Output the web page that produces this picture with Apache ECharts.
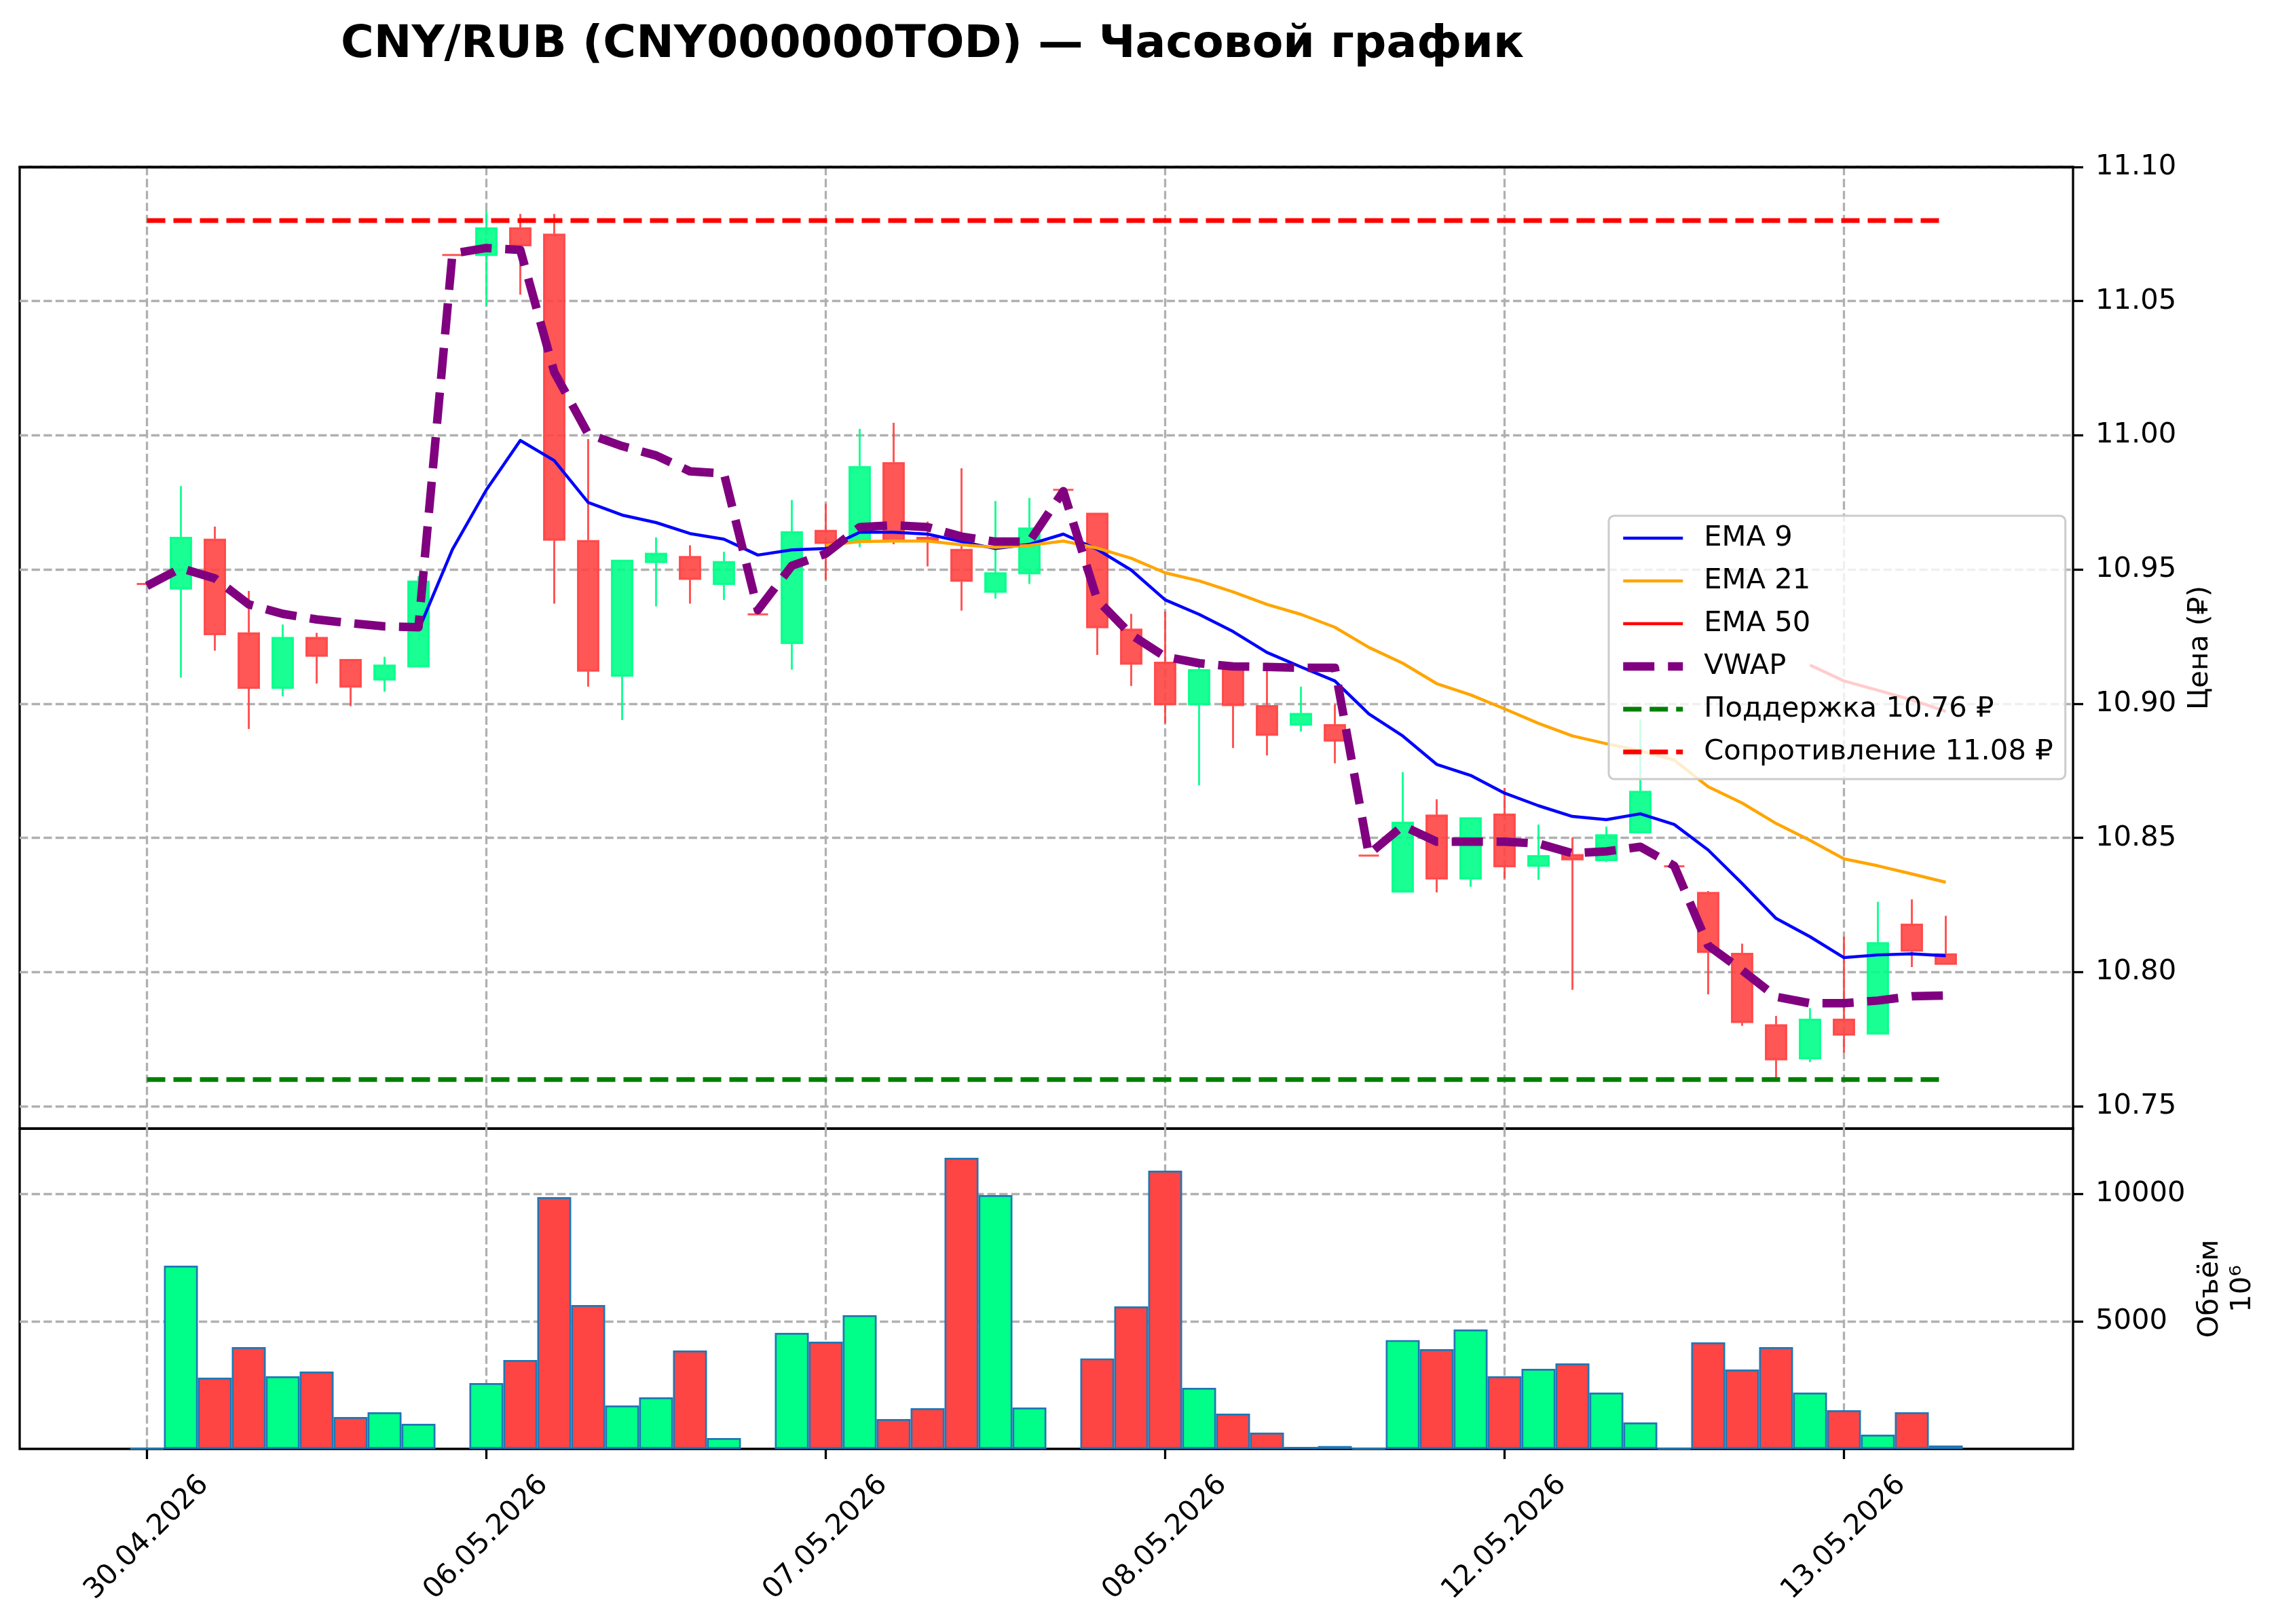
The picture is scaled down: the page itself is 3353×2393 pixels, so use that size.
<!DOCTYPE html>
<html>
<head>
<meta charset="utf-8">
<script src="https://cdn.jsdelivr.net/npm/echarts@6/dist/echarts.min.js"></script>
<style>html,body{margin:0;padding:0;background:#fff;}#chart{width:3353px;height:2393px;}</style>
</head>
<body>
<div id="chart"></div>
<script>
// ---- data ----
const xTickPositions = [0, 10, 20, 30, 40, 50];
const xTickLabels = ['30.04.2026', '06.05.2026', '07.05.2026', '08.05.2026', '12.05.2026', '13.05.2026'];
const priceTicks = [10.75, 10.80, 10.85, 10.90, 10.95, 11.00, 11.05, 11.10];
const volumeTicks = [5000, 10000];

const openP = [10.9446, 10.9429, 10.9611, 10.9262, 10.9059, 10.9245, 10.9163, 10.9090, 10.9139, 11.0672,
  11.0672, 11.0771, 11.0748, 10.9606, 10.9104, 10.9528, 10.9547, 10.9446, 10.9333, 10.9226,
  10.9644, 10.9606, 10.9896, 10.9618, 10.9573, 10.9417, 10.9486, 10.9797, 10.9708, 10.9276,
  10.9153, 10.8998, 10.9132, 10.8991, 10.8922, 10.8920, 10.8434, 10.8300, 10.8583, 10.8349,
  10.8587, 10.8396, 10.8436, 10.8417, 10.8521, 10.8394, 10.8295, 10.8068, 10.7802, 10.7679,
  10.7823, 10.7771, 10.8177, 10.8066];
const highP = [10.9446, 10.9811, 10.9660, 10.9420, 10.9295, 10.9264, 10.9163, 10.9175, 10.9476, 11.0672,
  11.0837, 11.0825, 11.0825, 10.9986, 10.9533, 10.9620, 10.9590, 10.9566, 10.9333, 10.9759,
  10.9745, 11.0024, 11.0047, 10.9679, 10.9877, 10.9755, 10.9767, 10.9797, 10.9708, 10.9335,
  10.9344, 10.9139, 10.9132, 10.9127, 10.9064, 10.8998, 10.8434, 10.8745, 10.8644, 10.8573,
  10.8686, 10.8550, 10.8502, 10.8542, 10.8943, 10.8394, 10.8302, 10.8106, 10.7837, 10.7866,
  10.8132, 10.8262, 10.8271, 10.8210];
const lowP = [10.9446, 10.9097, 10.9198, 10.8906, 10.9028, 10.9075, 10.8991, 10.9045, 10.9139, 11.0672,
  11.0483, 11.0524, 10.9373, 10.9064, 10.8939, 10.9363, 10.9373, 10.9387, 10.9333, 10.9127,
  10.9462, 10.9583, 10.9594, 10.9512, 10.9347, 10.9392, 10.9446, 10.9797, 10.9182, 10.9066,
  10.8927, 10.8696, 10.8835, 10.8807, 10.8896, 10.8778, 10.8434, 10.8300, 10.8297, 10.8318,
  10.8349, 10.8344, 10.7934, 10.8410, 10.8521, 10.8394, 10.7917, 10.7800, 10.7592, 10.7665,
  10.7700, 10.7771, 10.8019, 10.8031];
const closeP = [10.9446, 10.9618, 10.9259, 10.9059, 10.9245, 10.9179, 10.9064, 10.9142, 10.9455, 11.0672,
  11.0771, 11.0708, 10.9611, 10.9123, 10.9533, 10.9559, 10.9465, 10.9528, 10.9333, 10.9639,
  10.9599, 10.9882, 10.9606, 10.9606, 10.9458, 10.9486, 10.9653, 10.9797, 10.9285, 10.9149,
  10.8998, 10.9125, 10.8995, 10.8884, 10.8962, 10.8863, 10.8434, 10.8557, 10.8349, 10.8573,
  10.8394, 10.8432, 10.8420, 10.8510, 10.8672, 10.8394, 10.8075, 10.7814, 10.7675, 10.7823,
  10.7767, 10.8108, 10.8080, 10.8031];
const volume = [15, 7181, 2792, 3989, 2846, 3032, 1250, 1436, 984, 0,
  2580, 3484, 9867, 5638, 1702, 2021, 3856, 426, 0, 4548,
  4202, 5239, 1170, 1596, 11409, 9947, 1622, 0, 3546, 5585,
  10904, 2394, 1383, 638, 80, 115, 15, 4264, 3909, 4681,
  2846, 3138, 3351, 2207, 1037, 15, 4175, 3112, 3989, 2207,
  1516, 558, 1436, 133];
const ema9 = [null, null, null, null, null, null, null, null, 10.9274, 10.9575,
  10.9797, 10.9981, 10.9906, 10.9750, 10.9703, 10.9675, 10.9634, 10.9613, 10.9554, 10.9573,
  10.9578, 10.9639, 10.9639, 10.9632, 10.9604, 10.9578, 10.9594, 10.9632, 10.9575, 10.9498,
  10.9387, 10.9333, 10.9269, 10.9191, 10.9137, 10.9085, 10.8962, 10.8880, 10.8774, 10.8733,
  10.8667, 10.8620, 10.8580, 10.8568, 10.8590, 10.8550, 10.8455, 10.8330, 10.8200, 10.8132,
  10.8054, 10.8064, 10.8068, 10.8061];
const ema21 = [null, null, null, null, null, null, null, null, null, null,
  null, null, null, null, null, null, null, null, null, null,
  10.9590, 10.9604, 10.9606, 10.9606, 10.9592, 10.9583, 10.9590, 10.9606, 10.9580, 10.9542,
  10.9488, 10.9458, 10.9417, 10.9370, 10.9333, 10.9285, 10.9210, 10.9151, 10.9075, 10.9033,
  10.8981, 10.8927, 10.8880, 10.8851, 10.8825, 10.8790, 10.8691, 10.8630, 10.8554, 10.8491,
  10.8422, 10.8396, 10.8366, 10.8335];
const ema50 = [null, null, null, null, null, null, null, null, null, null,
  null, null, null, null, null, null, null, null, null, null,
  null, null, null, null, null, null, null, null, null, null,
  null, null, null, null, null, null, null, null, null, null,
  null, null, null, null, null, null, null, null, null, 10.9144,
  10.9085, 10.9050, 10.9014, 10.8972];
const vwap = [10.9439, 10.9505, 10.9467, 10.9370, 10.9335, 10.9314, 10.9300, 10.9288, 10.9285, 11.0677,
  11.0698, 11.0691, 11.0236, 11.0005, 10.9960, 10.9925, 10.9866, 10.9858, 10.9349, 10.9514,
  10.9559, 10.9658, 10.9665, 10.9658, 10.9623, 10.9604, 10.9604, 10.9792, 10.9387, 10.9257,
  10.9175, 10.9151, 10.9139, 10.9137, 10.9134, 10.9134, 10.8439, 10.8545, 10.8486, 10.8486,
  10.8486, 10.8479, 10.8443, 10.8450, 10.8467, 10.8396, 10.8099, 10.8007, 10.7908, 10.7884,
  10.7884, 10.7894, 10.7910, 10.7913];
const supportLevel = 10.76;
const resistanceLevel = 11.08;

// ---- build ----
const FONT = 'DejaVu Sans';
const UP = '#00ff88', DOWN = '#ff4444';
const idx = closeP.map((_, i) => i);
const candleData = idx.map(i => {
  const c = closeP[i] > openP[i] ? UP : DOWN;
  return { value: [i, openP[i], closeP[i], lowP[i], highP[i]],
           itemStyle: { color: c, color0: c, borderColor: c, borderColor0: c } };
});
const volData = idx.filter(i => volume[i] > 0).map(i => ({
  value: [i, volume[i]],
  itemStyle: { color: closeP[i] > openP[i] ? UP : DOWN }
}));
const lineData = arr => idx.filter(i => arr[i] != null).map(i => [i, arr[i]]);
const levelData = lvl => idx.map(i => [i, lvl]);

const gridLine = { show: true, lineStyle: { color: '#b0b0b0', width: 3.3, type: [12.3, 5.3] } };
const tickStyle = { show: true, length: 15, lineStyle: { color: '#000', width: 3.3 } };
const labelFont = { fontFamily: FONT, fontSize: 41.7, color: '#000' };
const hiddenLine = { show: false, onZero: false };

function lineSeries(name, data, color, width, type, z) {
  return { type: 'line', name, xAxisIndex: 0, yAxisIndex: 0, data, symbol: 'none', showSymbol: false,
    silent: true, z: z, animation: false,
    lineStyle: { color, width, type, join: 'round', cap: 'butt' }, itemStyle: { color } };
}
const noIcon = { opacity: 0, borderWidth: 0 };

const chart = echarts.init(document.getElementById('chart'), null, { renderer: 'canvas' });
chart.setOption({
  animation: false,
  backgroundColor: '#ffffff',
  title: { text: 'CNY/RUB (CNY000000TOD) — Часовой график', left: 502, top: 33, padding: 0,
    textStyle: { fontFamily: FONT, fontSize: 66.5, fontWeight: 'bold', color: '#000' } },
  legend: {
    orient: 'vertical', left: 2370, top: 760, padding: [12, 18, 19, 15], itemGap: 21,
    itemWidth: 88, itemHeight: 20, selectedMode: false,
    backgroundColor: 'rgba(255,255,255,0.8)', borderColor: '#cccccc', borderWidth: 3, borderRadius: 8,
    itemStyle: noIcon,
    textStyle: { fontFamily: FONT, fontSize: 41.7, color: '#000', lineHeight: 42, padding: [0, 0, 0, 26] },
    data: [
      { name: 'EMA 9', lineStyle: { width: 4.5 }, itemStyle: noIcon },
      { name: 'EMA 21', lineStyle: { width: 4.5 }, itemStyle: noIcon },
      { name: 'EMA 50', lineStyle: { width: 4.5 }, itemStyle: noIcon },
      { name: 'VWAP', lineStyle: { width: 12.5 }, itemStyle: noIcon },
      { name: 'Поддержка 10.76 ₽', lineStyle: { width: 7 }, itemStyle: noIcon },
      { name: 'Сопротивление 11.08 ₽', lineStyle: { width: 7 }, itemStyle: noIcon }
    ]
  },
  grid: [
    { left: 29, top: 246, width: 3025, height: 1417, show: true, borderColor: '#000', borderWidth: 3.3, backgroundColor: 'transparent' },
    { left: 29, top: 1663, width: 3025, height: 472, show: true, borderColor: '#000', borderWidth: 3.3, backgroundColor: 'transparent' }
  ],
  xAxis: [
    { type: 'value', gridIndex: 0, min: -3.75, max: 56.75,
      axisLine: hiddenLine,
      axisTick: { show: false, customValues: xTickPositions },
      axisLabel: { show: false, customValues: xTickPositions },
      splitLine: gridLine },
    { type: 'value', gridIndex: 1, position: 'bottom', min: -3.75, max: 56.75,
      axisLine: hiddenLine,
      axisTick: Object.assign({ customValues: xTickPositions }, tickStyle),
      axisLabel: Object.assign({ customValues: xTickPositions, rotate: 45, align: 'center', verticalAlign: 'middle', margin: 131,
        formatter: v => xTickLabels[xTickPositions.indexOf(Math.round(v))] || '' }, labelFont),
      splitLine: gridLine },
    // top frame edge of the price panel, drawn above the grid lines
    { type: 'value', gridIndex: 0, position: 'top', min: -3.75, max: 56.75, z: 10,
      axisLine: { show: true, onZero: false, lineStyle: { color: '#000', width: 3.3 } },
      axisTick: { show: false }, axisLabel: { show: false }, splitLine: { show: false } }
  ],
  yAxis: [
    { type: 'value', gridIndex: 0, position: 'right', min: 10.7417, max: 11.10, scale: true,
      axisLine: hiddenLine,
      axisTick: Object.assign({ customValues: priceTicks }, tickStyle),
      axisLabel: Object.assign({ customValues: priceTicks, margin: 33, formatter: v => v.toFixed(2) }, labelFont),
      splitLine: gridLine,
      name: 'Цена (₽)', nameLocation: 'middle', nameGap: 161,
      nameTextStyle: { fontFamily: FONT, fontSize: 41.7, color: '#000', lineHeight: 48 } },
    { type: 'value', gridIndex: 1, position: 'right', min: 0, max: 12553,
      axisLine: hiddenLine,
      axisTick: Object.assign({ customValues: volumeTicks }, tickStyle),
      axisLabel: Object.assign({ customValues: volumeTicks, margin: 33, formatter: v => String(v) }, labelFont),
      splitLine: gridLine,
      name: 'Объём\n10⁶', nameLocation: 'middle', nameGap: 178,
      nameTextStyle: { fontFamily: FONT, fontSize: 41.7, color: '#000', lineHeight: 48, align: 'center' } }
  ],
  series: [
    { type: 'candlestick', name: 'Свечи', xAxisIndex: 0, yAxisIndex: 0, encode: { x: 0, y: [1, 2, 3, 4] },
      barWidth: 30, silent: true, z: 2,
      itemStyle: { opacity: 0.9, borderWidth: 3 }, data: candleData },
    lineSeries('EMA 9', lineData(ema9), '#0000ff', 4.5, 'solid', 3),
    lineSeries('EMA 21', lineData(ema21), '#ffa500', 4.5, 'solid', 3),
    lineSeries('EMA 50', lineData(ema50), '#ff0000', 4.5, 'solid', 3),
    lineSeries('VWAP', lineData(vwap), '#800080', 12.5, [46, 20], 3),
    lineSeries('Поддержка 10.76 ₽', levelData(supportLevel), '#008000', 7, [27, 12], 3),
    lineSeries('Сопротивление 11.08 ₽', levelData(resistanceLevel), '#ff0000', 7, [27, 12], 3),
    { type: 'bar', name: 'Объём', xAxisIndex: 1, yAxisIndex: 1, barWidth: 50, silent: true, z: 2,
      itemStyle: { borderColor: '#1f77b4', borderWidth: 2.7 }, data: volData }
  ]
});
</script>
</body>
</html>
